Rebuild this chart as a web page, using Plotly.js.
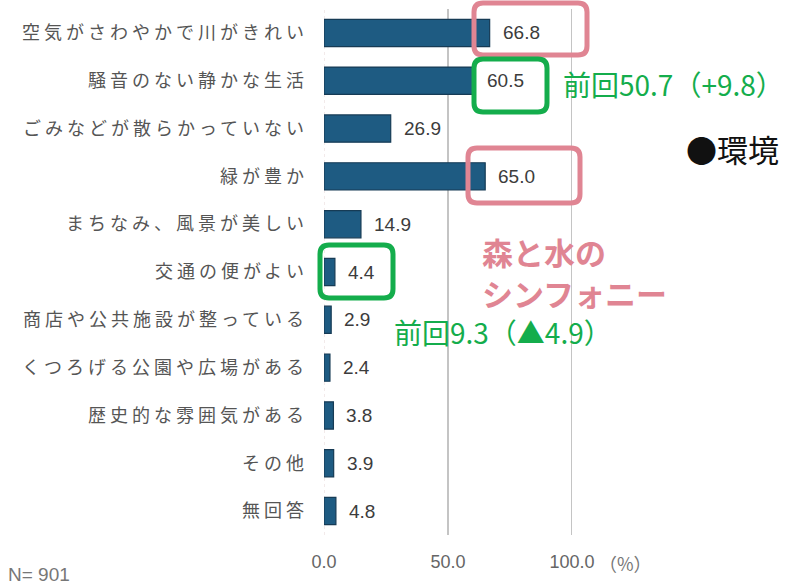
<!DOCTYPE html>
<html>
<head>
<meta charset="utf-8">
<script src="https://cdn.plot.ly/plotly-3.0.1.min.js"></script>
<style>
html,body{margin:0;padding:0;background:#fff;}
#chart{width:785px;height:586px;}
.ytick text{letter-spacing:4px;}
</style>
</head>
<body>
<div id="chart"></div>
<script>
// ---- data ----
const categories = [
  "空気がさわやかで川がきれい",
  "騒音のない静かな生活",
  "ごみなどが散らかっていない",
  "緑が豊か",
  "まちなみ、風景が美しい",
  "交通の便がよい",
  "商店や公共施設が整っている",
  "くつろげる公園や広場がある",
  "歴史的な雰囲気がある",
  "その他",
  "無回答"
];
const values = [66.8, 60.5, 26.9, 65.0, 14.9, 4.4, 2.9, 2.4, 3.8, 3.9, 4.8];
const tickVals = [0, 50, 100];
const tickLabels = ["0.0", "50.0", "100.0"];
const sampleNote = "N= 901";
const unitNote = "（%）";
const noteQuiet = "前回50.7（+9.8）";
const noteTraffic = "前回9.3（▲4.9）";
const headline = "●環境";
const slogan1 = "森と水の";
const slogan2 = "シンフォニー";

// ---- geometry helpers (plot area in pixels) ----
const W = 785, H = 586;
const L = 324, R = 572, T = 9, B = 535;
const px = x => (x - L) / (R - L);
const py = y => (B - y) / (B - T);
function roundRect(x0, y0, x1, y1, r) {
  const p = (x, y) => px(x) + "," + py(y);
  return "M" + p(x0 + r, y0) + " L" + p(x1 - r, y0) + " Q" + p(x1, y0) + " " + p(x1, y0 + r) +
    " L" + p(x1, y1 - r) + " Q" + p(x1, y1) + " " + p(x1 - r, y1) +
    " L" + p(x0 + r, y1) + " Q" + p(x0, y1) + " " + p(x0, y1 - r) +
    " L" + p(x0, y0 + r) + " Q" + p(x0, y0) + " " + p(x0 + r, y0) + " Z";
}

const pink = "#e08593";
const green = "#14ad4c";
const jp = "'Noto Sans CJK JP', 'Noto Sans', sans-serif";
const num = "'Liberation Sans', Arial, sans-serif";

const trace = {
  type: "bar",
  orientation: "h",
  y: categories,
  x: values,
  marker: {color: "#1e5b82", line: {color: "#163b55", width: 1.2}},
  hoverinfo: "skip"
};

const valueAnnotations = categories.map((c, i) => ({
  xref: "x", yref: "y", x: values[i], y: c,
  text: values[i].toFixed(1), showarrow: false,
  xanchor: "left", yanchor: "middle", xshift: 11,
  font: {family: num, size: 19, color: "#3c3c3c"}
}));

const textAnn = (x, y, text, size, color, family) => ({
  xref: "paper", yref: "paper", x: px(x), y: py(y), text: text, showarrow: false,
  xanchor: "left", yanchor: "middle", font: {family: family || jp, size: size, color: color}
});

const annotations = valueAnnotations.concat([
  textAnn(561, 84, noteQuiet, 28, green),
  textAnn(392, 332, noteTraffic, 28, green),
  textAnn(684, 148, headline, 31, "#111"),
  textAnn(480, 251, "<b>" + slogan1 + "</b>", 31, pink),
  textAnn(480, 292, "<b>" + slogan2 + "</b>", 31, pink),
  textAnn(6, 574, sampleNote, 19, "#777", num),
  textAnn(597, 563, unitNote, 18, "#777")
]);

const boxes = [
  {x0: 474, y0: 3, x1: 587, y1: 55, c: pink},
  {x0: 474, y0: 59, x1: 547, y1: 112, c: green},
  {x0: 468, y0: 148, x1: 580, y1: 203, c: pink},
  {x0: 320, y0: 245, x1: 393, y1: 298, c: green}
];
const shapes = boxes.map(b => ({
  type: "path", xref: "paper", yref: "paper",
  path: roundRect(b.x0, b.y0, b.x1, b.y1, 9),
  line: {color: b.c, width: 5}, layer: "above"
}));
shapes.push({
  type: "line", xref: "x", yref: "paper", x0: 0, x1: 0, y0: 0, y1: 1,
  line: {color: "#e6d6d6", width: 1, dash: "dot"}, layer: "below"
});
shapes.push({
  type: "line", xref: "x", yref: "paper", x0: 100, x1: 100, y0: 0, y1: 1,
  line: {color: "#c4c4c4", width: 2}, layer: "below"
});

const layout = {
  width: W, height: H,
  margin: {l: L, r: W - R, t: T, b: H - B, pad: 0},
  paper_bgcolor: "#fff", plot_bgcolor: "#fff",
  showlegend: false,
  bargap: 0.43,
  xaxis: {
    range: [0, 100], tickvals: tickVals, ticktext: tickLabels,
    showgrid: true, gridcolor: "#c4c4c4", gridwidth: 2,
    zeroline: false, showline: false, ticks: "",
    tickfont: {family: num, size: 18, color: "#666"},
    ticklabelstandoff: 14, fixedrange: true
  },
  yaxis: {
    autorange: "reversed", showgrid: false, zeroline: false, showline: false, ticks: "",
    tickfont: {family: jp, size: 18, color: "#555"},
    ticklabelstandoff: 15, fixedrange: true
  },
  annotations: annotations,
  shapes: shapes
};

Plotly.newPlot("chart", [trace], layout, {displayModeBar: false, staticPlot: true});
</script>
</body>
</html>
